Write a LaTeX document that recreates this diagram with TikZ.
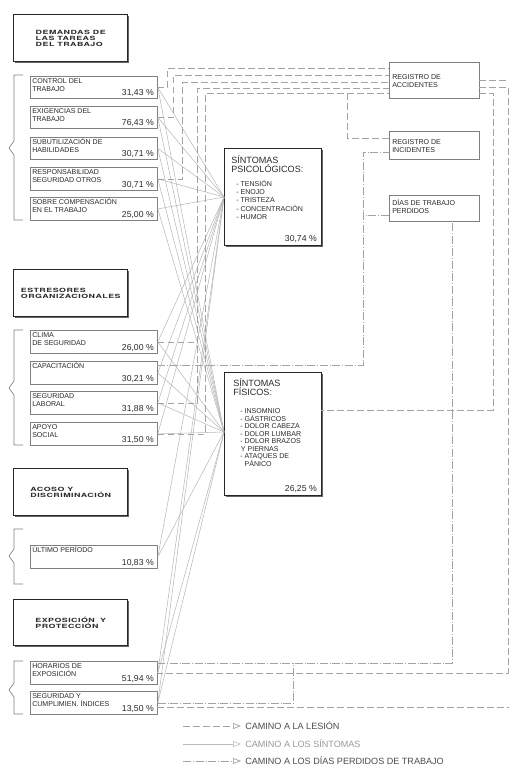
\documentclass[tikz,border=0pt]{standalone}
\usepackage{fontspec}
\setmainfont{Liberation Sans}
\newfontfamily\headfont[FakeStretch=1.55,LetterSpace=8]{TeX Gyre Heros}
\usetikzlibrary{arrows.meta,shadows}

\definecolor{inkgray}{HTML}{2B2B2B}
\definecolor{boxgray}{HTML}{808080}
\definecolor{symgray}{HTML}{B8B8B8}
\definecolor{pathgray}{HTML}{A3A3A3}

\tikzset{
  grouphd/.style={draw=black!85, line width=1.1pt, fill=white, anchor=north west, inner sep=0pt,
    minimum width=85.5pt, drop shadow={shadow xshift=0.6pt, shadow yshift=-0.6pt, fill=black!60, opacity=1}},
  grouptext/.style={inner sep=0pt, align=left, text=inkgray, font=\headfont\bfseries\fontsize{4.3}{4.6}\selectfont},
  itembox/.style={draw=boxgray, line width=0.6pt, fill=white, anchor=north west, inner sep=0pt, minimum width=95.25pt},
  itemtext/.style={anchor=north west, inner sep=0pt, align=left, text=inkgray, font=\fontsize{5.3}{6}\selectfont},
  pcttext/.style={anchor=base east, inner sep=0pt, text=inkgray, font=\fontsize{6.5}{7}\selectfont},
  sympbox/.style={draw=black!85, line width=1.1pt, fill=white, anchor=north west, inner sep=0pt,
    minimum width=72.75pt, drop shadow={shadow xshift=0.6pt, shadow yshift=-0.6pt, fill=black!60, opacity=1}},
  symhead/.style={anchor=north west, inner sep=0pt, align=left, text=inkgray, font=\fontsize{6.8}{6.75}\selectfont},
  symlist/.style={anchor=north west, inner sep=0pt, align=left, text=inkgray, font=\fontsize{5.3}{6.2}\selectfont},
  regbox/.style={draw=boxgray, line width=0.6pt, fill=white, anchor=north west, inner sep=0pt, minimum width=67.5pt},
  bracket/.style={draw=boxgray, line width=0.5pt},
  symline/.style={draw=symgray, line width=0.4pt},
  lesion/.style={draw=pathgray, line width=0.55pt, dash pattern=on 5pt off 2.5pt},
  dayloss/.style={draw=pathgray, line width=0.55pt, dash pattern=on 6pt off 1.5pt on 0.4pt off 1.5pt},
  legtext/.style={anchor=west, inner xsep=3pt, inner ysep=0pt, font=\fontsize{6.8}{7}\selectfont},
  legtip/.style={-{Triangle[open,length=6pt,width=4.5pt]}},
}

% header box: name, top, bottom, text
\newcommand{\grouphead}[4]{%
  \node[grouphd, minimum height={(#3-#2)*0.75pt}] (#1) at (13,#2) {};
  \node[grouptext] (#1-t) at (#1.center) {#4};}
% stressor box: name, top, bottom, label, percent
\newcommand{\stressor}[5]{%
  \node[itembox, minimum height={(#3-#2)*0.75pt}] (#1) at (30,#2) {};
  \node[itemtext] (#1-t) at (32,#2+1.4) {\vphantom{Í}#4};
  \node[pcttext] (#1-p) at (154,#3-3) {#5};}
% left bracket: top, tip, bottom
\newcommand{\bracegroup}[3]{%
  \draw[bracket] (23,#1) -- (14,#1) -- (14,#2-7) -- (9,#2) -- (14,#2+7) -- (14,#3) -- (23,#3);}

\begin{document}
\begin{tikzpicture}[x=0.75pt,y=0.75pt,yscale=-1,xscale=1]
\useasboundingbox (0,0) rectangle (509,767);

% groups on the left
\grouphead{dem}{14}{61}{DEMANDAS DE\\LAS TAREAS\\DEL TRABAJO}
\stressor{ctrl}{76}{98}{CONTROL DEL\\TRABAJO}{31,43 \%}
\stressor{exig}{106}{128}{EXIGENCIAS DEL\\TRABAJO}{76,43 \%}
\stressor{subu}{137}{159}{SUBUTILIZACIÓN DE\\HABILIDADES}{30,71 \%}
\stressor{resp}{167}{190}{RESPONSABILIDAD\\SEGURIDAD OTROS}{30,71 \%}
\stressor{sobre}{197}{220}{SOBRE COMPENSACIÓN\\EN EL TRABAJO}{25,00 \%}
\bracegroup{75}{148}{220}

\grouphead{org}{269}{316}{ESTRESORES\\ORGANIZACIONALES}
\stressor{clima}{330}{353}{CLIMA\\DE SEGURIDAD}{26,00 \%}
\stressor{capa}{361}{384}{CAPACITACIÓN}{30,21 \%}
\stressor{segl}{391}{414}{SEGURIDAD\\LABORAL}{31,88 \%}
\stressor{apoyo}{422}{445}{APOYO\\SOCIAL}{31,50 \%}
\bracegroup{330}{388}{445}

\grouphead{acoso}{468}{515}{ACOSO Y\\DISCRIMINACIÓN}
\stressor{ultimo}{545}{568}{ÚLTIMO PERÍODO}{10,83 \%}
\bracegroup{529}{556}{584}

\grouphead{expo}{599}{645}{EXPOSICIÓN\hspace{4pt}Y\\PROTECCIÓN}
\stressor{horario}{661}{684}{HORARIOS DE\\EXPOSICIÓN}{51,94 \%}
\stressor{segcum}{691}{714}{SEGURIDAD Y\\CUMPLIMIEN. ÍNDICES}{13,50 \%}
\bracegroup{661}{690}{714}

% symptoms
\node[sympbox, minimum height={97*0.75pt}] (psi) at (224,148) {};
\node[symhead] (psi-t) at (231,155) {SÍNTOMAS\\PSICOLÓGICOS:};
\node[symlist] (psi-l) at (236,180) {- TENSIÓN\\- ENOJO\\- TRISTEZA\\- CONCENTRACIÓN\\- HUMOR};
\node[pcttext] (psi-p) at (317,241) {30,74 \%};

\node[sympbox, minimum height={123*0.75pt}] (fis) at (224,372) {};
\node[symhead] (fis-t) at (233,378.5) {SÍNTOMAS\\FÍSICOS:};
\node[symlist, font=\fontsize{5.3}{5.7}\selectfont] (fis-l) at (240,407)
  {\vphantom{Í}- INSOMNIO\\- GÁSTRICOS\\- DOLOR CABEZA\\- DOLOR LUMBAR\\- DOLOR BRAZOS\\\hspace{0.5pt}Y PIERNAS\\- ATAQUES DE\\\phantom{- }PÁNICO};
\node[pcttext] (fis-p) at (317,491) {26,25 \%};

% records
\node[regbox, minimum height={36*0.75pt}] (acc) at (389,62) {};
\node[itemtext] (acc-t) at (392,74.5) {REGISTRO DE\\ACCIDENTES};
\node[regbox, minimum height={28*0.75pt}] (inc) at (389,131) {};
\node[itemtext] (inc-t) at (392,139.5) {REGISTRO DE\\INCIDENTES};
\node[regbox, minimum height={26*0.75pt}] (dias) at (389,195) {};
\node[itemtext] (dias-t) at (392,199) {DÍAS DE TRABAJO\\PERDIDOS};

% junctions
\coordinate (acc-a) at (389,68);
\coordinate (acc-b) at (389,75);
\coordinate (acc-c) at (389,82);
\coordinate (acc-d) at (389,88);
\coordinate (acc-e) at (389,93);
\coordinate (acc-f) at (479,80);
\coordinate (acc-g) at (479,87);
\coordinate (acc-h) at (479,93);
\coordinate (inc-a) at (389,138);
\coordinate (inc-b) at (389,152);
\coordinate (dias-a) at (389,215);
\coordinate (dias-b) at (452,221);
\coordinate (fis-a) at (321,410);
\coordinate (capa-a) at (157,365);
\coordinate (hor-a) at (157,663);
\coordinate (segc-a) at (157,707);
\coordinate (psi-in) at (224,197);
\coordinate (fis-in) at (224,432);

% paths to the symptoms
\foreach \s in {ctrl,exig,subu,resp,sobre,clima,capa,segl,apoyo,ultimo,horario,segcum}{
  \draw[symline] (\s.east) -- (psi-in);
  \draw[symline] (\s.east) -- (fis-in);
}

% paths to the injury
\draw[lesion] (ctrl.east) -- ++(10,0) |- (acc-a);
\draw[lesion] (exig.east) -- ++(16,0) |- (acc-b);
\draw[lesion] (resp.east) -- ++(25,0) |- (acc-c);
\draw[lesion] (clima.east) -- ++(40,0);
\draw[lesion] (segl.east) -- ++(40,0) |- (acc-d);
\draw[lesion] (apoyo.east) -- ++(48,0) |- (acc-e);
\draw[lesion] (inc-a) -| (347,93);
\draw[lesion] (acc-f) -- ++(34,0) |- (segc-a);
\draw[lesion] (acc-g) -- ++(29,0) |- (horario.east);
\draw[lesion] (acc-h) -- ++(14,0) |- (fis-a);

% paths to lost days
\draw[dayloss] (capa-a) -- ++(206,0) |- (inc-b);
\draw[dayloss] (dias-a) -- ++(-26,0);
\draw[dayloss] (hor-a) -| (dias-b);
\draw[dayloss] (segcum.east) -- ++(136,0) -- ++(0,-40);

% legend
\coordinate (leg-a) at (183,726);
\coordinate (leg-b) at (183,744);
\coordinate (leg-c) at (183,761);
\node[legtext, text=inkgray!85] (leg1) at (241,726) {CAMINO A LA LESIÓN};
\node[legtext, text=black!40] (leg2) at (241,744) {CAMINO A LOS SÍNTOMAS};
\node[legtext, text=inkgray!85] (leg3) at (241,761) {CAMINO A LOS DÍAS PERDIDOS DE TRABAJO};
\draw[lesion, legtip] (leg-a) -- (leg1.west);
\draw[symline, legtip] (leg-b) -- (leg2.west);
\draw[dayloss, legtip] (leg-c) -- (leg3.west);
\end{tikzpicture}
\end{document}
